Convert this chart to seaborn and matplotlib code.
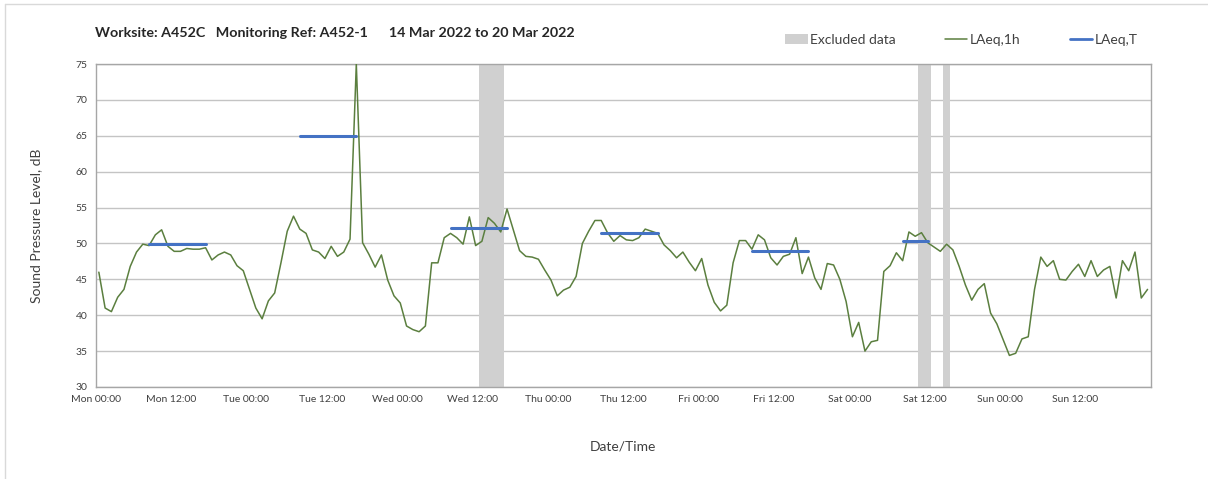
import numpy as np
import pandas as pd
import matplotlib
matplotlib.use("Agg")
import matplotlib.pyplot as plt
from matplotlib.lines import Line2D
from matplotlib.patches import Patch
import seaborn as sns

# ---------------- data ----------------
title_text = "Worksite: A452C   Monitoring Ref: A452-1      14 Mar 2022 to 20 Mar 2022"
tick_labels = ["Mon 00:00", "Mon 12:00", "Tue 00:00", "Tue 12:00", "Wed 00:00", "Wed 12:00",
               "Thu 00:00", "Thu 12:00", "Fri 00:00", "Fri 12:00", "Sat 00:00", "Sat 12:00",
               "Sun 00:00", "Sun 12:00", ""]

# hourly LAeq,1h values (hour 0 = Mon 00:00)
laeq_1h = [
    46.0, 41.0, 40.5, 42.5, 43.6, 46.8, 48.8, 49.9, 49.7, 51.2, 51.9, 49.6,
    48.9, 48.9, 49.3, 49.2, 49.2, 49.4, 47.7, 48.4, 48.8, 48.4, 46.9, 46.2,
    43.6, 41.0, 39.5, 42.0, 43.1, 47.3, 51.7, 53.8, 52.0, 51.4, 49.1, 48.8,
    47.9, 49.6, 48.2, 48.8, 50.6, 75.0, 50.1, 48.5, 46.7, 48.4, 44.9, 42.7,
    41.7, 38.5, 38.0, 37.7, 38.5, 47.3, 47.3, 50.8, 51.4, 50.8, 49.9, 53.7,
    49.7, 50.3, 53.6, 52.8, 51.6, 54.8, 51.9, 49.0, 48.2, 48.1, 47.8, 46.3,
    44.9, 42.7, 43.5, 43.9, 45.4, 50.0, 51.7, 53.2, 53.2, 51.5, 50.3, 51.1,
    50.5, 50.4, 50.8, 52.0, 51.7, 51.4, 49.8, 49.0, 48.0, 48.8, 47.4, 46.2,
    47.9, 44.2, 41.8, 40.6, 41.4, 47.3, 50.4, 50.4, 49.2, 51.2, 50.5, 48.0,
    47.0, 48.2, 48.5, 50.8, 45.8, 48.1, 45.2, 43.6, 47.2, 47.0, 45.0, 41.9,
    37.0, 39.0, 35.0, 36.3, 36.5, 46.1, 46.9, 48.7, 47.6, 51.6, 51.0, 51.5,
    50.1, 49.5, 48.9, 49.9, 49.1, 46.8, 44.2, 42.1, 43.6, 44.4, 40.3, 38.8,
    36.6, 34.4, 34.7, 36.7, 37.0, 43.6, 48.1, 46.8, 47.6, 45.0, 44.9, 46.1,
    47.1, 45.4, 47.6, 45.4, 46.3, 46.8, 42.4, 47.6, 46.2, 48.8, 42.4, 43.6,
]

# LAeq,T periods (first hour, last hour, level)
period_first_hour = [8, 32, 56, 80, 104, 128]
period_last_hour = [17, 41, 65, 89, 113, 132]
period_level = [49.9, 65.0, 52.1, 51.4, 49.0, 50.3]

# excluded data windows (start hour, end hour)
excluded_start = [61, 131, 135]
excluded_end = [65, 133, 136]

# ---------------- build frames ----------------
n_hours = len(laeq_1h)
hours = np.arange(n_hours)
df_1h = pd.DataFrame({"hour": hours + 0.5, "level": laeq_1h})

rows = []
for k, (a, b, v) in enumerate(zip(period_first_hour, period_last_hour, period_level)):
    for h in range(a, b + 1):
        rows.append({"hour": h + 0.5, "level": v, "period": k})
df_T = pd.DataFrame(rows)

# ---------------- style ----------------
sns.set_style("white")
plt.rcParams["font.family"] = ["Lato", "DejaVu Sans"]

green = "#5b7f3f"
blue = "#4472c4"
grey_ex = "#d0d0d0"
grid_c = "#c4c4c4"
text_c = "#404040"

W, H = 1208, 479
fig = plt.figure(figsize=(W / 100, H / 100), dpi=100)
ax = fig.add_axes([95.7 / W, 1 - 387 / H, (1150.7 - 95.7) / W, (387 - 64) / H])

for s, e in zip(excluded_start, excluded_end):
    ax.axvspan(s, e, color=grey_ex, lw=0, zorder=1)

sns.lineplot(data=df_1h, x="hour", y="level", color=green, lw=1.1, ax=ax, zorder=3,
             legend=False)
sns.lineplot(data=df_T, x="hour", y="level", units="period", estimator=None,
             color=blue, lw=2.2, ax=ax, zorder=4, legend=False)

ax.set_xlim(0, n_hours)
ax.set_ylim(30, 75)
ax.set_yticks(np.arange(30, 76, 5))
ax.set_xticks(np.arange(0, n_hours + 1, 12))
ax.set_xticklabels(tick_labels)
ax.set_xticks(np.arange(0, n_hours + 1, 24), minor=True)

ax.grid(False)
ax.yaxis.grid(True, color=grid_c, lw=1.0, zorder=0)
ax.xaxis.grid(True, which="minor", color="#e0e0e0", lw=1.0, zorder=0)
ax.set_axisbelow(True)

for sp in ax.spines.values():
    sp.set_color("#a6a6a6")
    sp.set_linewidth(1.0)

ax.tick_params(axis="x", which="major", direction="out", length=4, width=0.8,
               color="#a6a6a6", labelsize=7.5, labelcolor=text_c, pad=2)
ax.tick_params(axis="x", which="minor", length=0)
ax.tick_params(axis="y", direction="out", length=4, width=0.8, color="#a6a6a6",
               labelsize=7.5, labelcolor=text_c, pad=2)

ax.set_xlabel("Date/Time", fontsize=10, color=text_c, labelpad=26)
ax.set_ylabel("Sound Pressure Level, dB", fontsize=10, color=text_c, labelpad=24)

fig.text(95 / W, 1 - 33 / H, title_text, fontsize=10.3, fontweight="bold",
         color="#262626", ha="left", va="center")

handles = [Patch(facecolor=grey_ex, edgecolor="none"),
           Line2D([0], [0], color=green, lw=1.1),
           Line2D([0], [0], color=blue, lw=2.0)]
fig.legend(handles, ["Excluded data", "LAeq,1h", "LAeq,T"], ncol=3, frameon=False,
           loc="center right", bbox_to_anchor=(1150 / W, 1 - 40 / H),
           fontsize=10, handlelength=1.6, handleheight=0.7, handletextpad=0.15,
           columnspacing=3.6, labelcolor=text_c)

# outer frame (top + left edges)
fig.add_artist(Line2D([5 / W, 1], [1 - 4 / H, 1 - 4 / H], color="#d9d9d9", lw=1,
                      transform=fig.transFigure))
fig.add_artist(Line2D([5 / W, 5 / W], [0, 1 - 4 / H], color="#d9d9d9", lw=1,
                      transform=fig.transFigure))

fig.savefig("out.png", dpi=100)
